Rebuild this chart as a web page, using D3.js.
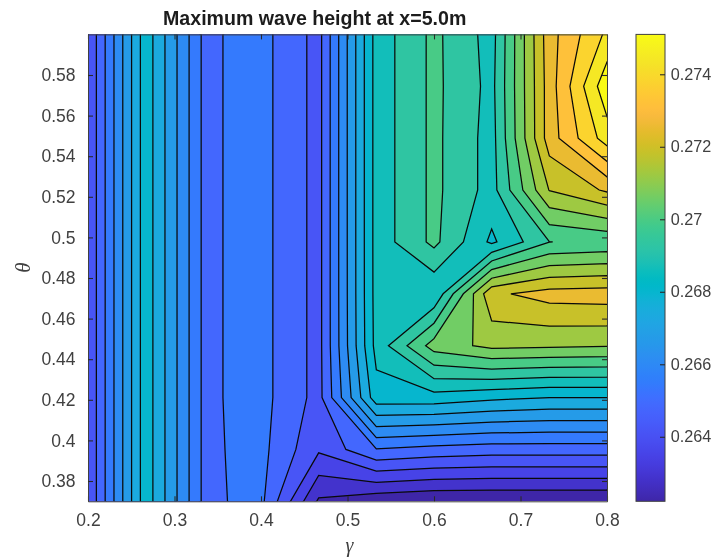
<!DOCTYPE html>
<html><head><meta charset="utf-8">
<script src="https://cdn.jsdelivr.net/npm/d3@7"></script>
<style>
html,body{margin:0;padding:0;background:#fff}
svg{display:block;filter:blur(0.5px)}
text{font-family:"Liberation Sans",Arial,sans-serif;fill:#404040}
</style></head><body>
<svg id="c" width="712" height="557"></svg>
<script>
const titleText = "Maximum wave height at x=5.0m";
const gammaValues = [0.2,0.26667,0.33333,0.4,0.46667,0.53333,0.6,0.66667,0.73333,0.8];
const thetaValues = [0.37,0.39556,0.42111,0.44667,0.47222,0.49778,0.52333,0.54889,0.57444,0.6];
const xTicks = [0.2,0.3,0.4,0.5,0.6,0.7,0.8];
const yTicks = [0.38,0.4,0.42,0.44,0.46,0.48,0.5,0.52,0.54,0.56,0.58];
const cbTicks = [0.264,0.266,0.268,0.27,0.272,0.274];
const levels = [0.26222,0.262864,0.263508,0.264152,0.264796,0.26544,0.266084,0.266728,0.267372,0.268016,0.26866,0.269304,0.269948,0.270592,0.271236,0.27188,0.272524,0.273168,0.273812,0.274456,0.2751];
// one row per theta value, bottom to top
const row037 = [0.264184,0.268402,0.265324,0.265601,0.262767,0.262413,0.262252,0.262239,0.262239,0.262239];
const row040 = [0.264184,0.268402,0.265324,0.265633,0.264249,0.265408,0.265215,0.265118,0.265118,0.265118];
const row042 = [0.264184,0.268402,0.265324,0.265665,0.264571,0.268402,0.268402,0.268164,0.268016,0.268016];
const row045 = [0.264184,0.268402,0.265324,0.265665,0.264571,0.268885,0.270882,0.27141,0.271339,0.271281];
const row047 = [0.264184,0.268402,0.265324,0.265665,0.264571,0.268918,0.268724,0.272395,0.272782,0.272846];
const row050 = [0.264184,0.268402,0.265324,0.265665,0.264571,0.268924,0.270109,0.268531,0.26994,0.270077];
const row052 = [0.264184,0.268402,0.265324,0.265665,0.264571,0.268924,0.270109,0.269046,0.271906,0.272621];
const row055 = [0.264184,0.268402,0.265324,0.265665,0.264571,0.268924,0.270109,0.269046,0.272846,0.274778];
const row057 = [0.264184,0.268402,0.265324,0.265665,0.264571,0.268924,0.270109,0.269111,0.272846,0.275551];
const row060 = [0.264184,0.268402,0.265324,0.265665,0.264571,0.268924,0.270109,0.269046,0.27291,0.274585];
const rows = [row037,row040,row042,row045,row047,row050,row052,row055,row057,row060];

const parulaRows = [[.2422,.1504,.6603],[.2504,.165,.7076],[.2578,.1818,.7511],[.2647,.1978,.7952],[.2706,.2147,.8364],[.2751,.2342,.871],[.2783,.2559,.8991],[.2803,.2782,.9221],[.2813,.3006,.9414],[.281,.3228,.9579],[.2795,.3447,.9717],[.276,.3667,.9829],[.2699,.3892,.9906],[.2602,.4123,.9952],[.244,.4358,.9988],[.2206,.4603,.9973],[.1963,.4847,.9892],[.1834,.5074,.9798],[.1786,.5289,.9682],[.1764,.5499,.952],[.1687,.5703,.9359],[.154,.5902,.9218],[.146,.6091,.9079],[.138,.6276,.8973],[.1248,.6459,.8883],[.1113,.6635,.8763],[.0952,.6798,.8598],[.0689,.6948,.8394],[.0297,.7082,.8163],[.0036,.7203,.7917],[.0067,.7312,.766],[.0433,.7411,.7394],[.0964,.75,.712],[.1408,.7584,.6842],[.1717,.767,.6554],[.1938,.7758,.6251],[.2161,.7843,.5923],[.247,.7918,.5567],[.2906,.7973,.5188],[.3406,.8008,.4789],[.3909,.8029,.4354],[.4456,.8024,.3909],[.5044,.7993,.348],[.5616,.7942,.3045],[.6174,.7876,.2612],[.672,.7793,.2227],[.7242,.7698,.191],[.7738,.7598,.1646],[.8203,.7498,.1535],[.8634,.7406,.1596],[.9035,.733,.1774],[.9393,.7288,.21],[.9728,.7298,.2394],[.9956,.7434,.2371],[.997,.7659,.2199],[.9952,.7893,.2028],[.9892,.8136,.1885],[.9786,.8386,.1766],[.9676,.8639,.1643],[.961,.889,.1537],[.9597,.9135,.1423],[.9628,.9373,.1265],[.9691,.9606,.1064],[.9769,.9839,.0805]];
const parulaHex = parulaRows.map(c => d3.rgb(c[0]*255,c[1]*255,c[2]*255).formatHex());
const zMin = levels[0], zMax = levels[levels.length-1];
const color = d3.scaleLinear().domain(parulaHex.map((_,i)=>zMin+(zMax-zMin)*i/63)).range(parulaHex).clamp(true);

const svg = d3.select("#c");
const L=88,R=607,T=34.4,B=501.3, CL=636,CR=665;
const x = d3.scaleLinear().domain([0.2,0.8]).range([L,R]);
const y = d3.scaleLinear().domain([0.37,0.6]).range([B,T]);
const nx = gammaValues.length, ny = thetaValues.length;
const gx = d3.scaleLinear().domain([0.5,nx-0.5]).range([x(gammaValues[0]),x(gammaValues[nx-1])]);
const gy = d3.scaleLinear().domain([0.5,ny-0.5]).range([y(thetaValues[0]),y(thetaValues[ny-1])]);
const path = d3.geoPath(d3.geoTransform({point(a,b){this.stream.point(gx(a),gy(b));}}));

const defs = svg.append("defs");
defs.append("clipPath").attr("id","plot").append("rect").attr("x",L).attr("y",T).attr("width",R-L).attr("height",B-T);
const grad = defs.append("linearGradient").attr("id","bar").attr("x1",0).attr("x2",0).attr("y1",1).attr("y2",0);
parulaHex.forEach((h,i)=>grad.append("stop").attr("offset",i/63).attr("stop-color",h));

const plot = svg.append("g").attr("clip-path","url(#plot)");
plot.append("rect").attr("x",L).attr("y",T).attr("width",R-L).attr("height",B-T).attr("fill",color(levels[0]));
const contours = d3.contours().size([nx,ny]).thresholds(levels.slice(1))(rows.flat());
plot.selectAll("path").data(contours).join("path")
  .attr("d",path).attr("fill",d=>color(d.value))
  .attr("stroke","#0a0a0a").attr("stroke-width",1.25).attr("stroke-linejoin","miter");

const axisColor="#404040";
function style(g,size){
  g.selectAll(".domain").attr("stroke",axisColor).attr("stroke-width",1);
  g.selectAll(".tick line").attr("stroke","#2a2a2a").attr("stroke-width",1.1);
  g.selectAll("text").attr("fill","#4a4a4a").style("font-size",(size||17.5)+"px").style("font-family",'"Liberation Sans",Arial,sans-serif');
}
const fmt = d=>String(d);
svg.append("g").attr("transform",`translate(0,${B})`).call(d3.axisBottom(x).tickValues(xTicks).tickFormat(fmt).tickSizeInner(-5).tickSizeOuter(0).tickPadding(12.5)).call(style);
svg.append("g").attr("transform",`translate(0,${T})`).call(d3.axisTop(x).tickValues(xTicks).tickFormat("").tickSizeInner(-5).tickSizeOuter(0)).call(style);
svg.append("g").attr("transform",`translate(${L},0)`).call(d3.axisLeft(y).tickValues(yTicks).tickFormat(fmt).tickSizeInner(-5).tickSizeOuter(0).tickPadding(12.5)).call(style);
svg.append("g").attr("transform",`translate(${R},0)`).call(d3.axisRight(y).tickValues(yTicks).tickFormat("").tickSizeInner(-5).tickSizeOuter(0)).call(style);

// colour bar
const cy = d3.scaleLinear().domain([zMin,zMax]).range([B,T]);
svg.append("rect").attr("x",CL).attr("y",T).attr("width",CR-CL).attr("height",B-T).attr("fill","url(#bar)").attr("stroke",axisColor).attr("stroke-width",1);
svg.append("g").attr("transform",`translate(${CR},0)`).call(d3.axisRight(cy).tickValues(cbTicks).tickFormat(fmt).tickSizeInner(-5).tickSizeOuter(0).tickPadding(5.7)).call(g=>style(g,16.2))
  .select(".domain").attr("stroke","none");

svg.append("text").attr("x",314.7).attr("y",25).attr("text-anchor","middle").style("font-size","19.6px").style("font-weight","700").style("fill","#1c1c1c").text(titleText);
svg.append("text").attr("x",349.5).attr("y",552).attr("text-anchor","middle").style("font-family",'"Liberation Serif",serif').style("font-style","italic").style("font-size","20px").text("γ");
svg.append("text").attr("transform","translate(30,267.5) rotate(-90)").attr("text-anchor","middle").style("font-family",'"Liberation Serif",serif').style("font-style","italic").style("font-size","21px").text("θ");
</script></body></html>
